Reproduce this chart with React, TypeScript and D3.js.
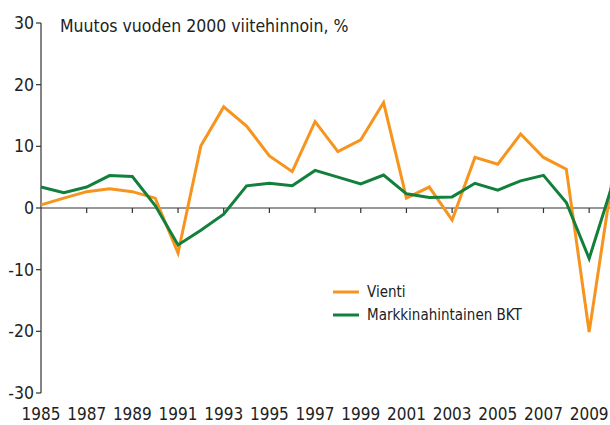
import React from 'react'
import * as d3 from 'd3'

const width = 610
const height = 425
const font = '"Liberation Sans Narrow", "DejaVu Sans Condensed", "Roboto Condensed", "Noto Sans", sans-serif'

const years = [1985, 1986, 1987, 1988, 1989, 1990, 1991, 1992, 1993, 1994, 1995, 1996, 1997,
	1998, 1999, 2000, 2001, 2002, 2003, 2004, 2005, 2006, 2007, 2008, 2009, 2010]
const vienti = [0.5, 1.6, 2.65, 3.1, 2.65, 1.6, -7.3, 10.1, 16.4, 13.3, 8.45, 5.9, 14.0,
	9.15, 11.05, 17.1, 1.6, 3.4, -1.95, 8.2, 7.1, 12.0, 8.2, 6.3, -20.1, 4.5]
const bkt = [3.4, 2.5, 3.4, 5.25, 5.1, 0.4, -6.0, -3.6, -1.0, 3.6, 4.0, 3.6, 6.1,
	5.0, 3.9, 5.35, 2.3, 1.7, 1.8, 4.0, 2.9, 4.4, 5.3, 0.9, -8.2, 3.6]
const yTicks = [30, 20, 10, 0, -10, -20, -30]
const xLabels = [1985, 1987, 1989, 1991, 1993, 1995, 1997, 1999, 2001, 2003, 2005, 2007, 2009]
const xTicks = [1987, 1989, 1991, 1993, 1995, 1997, 1999, 2001, 2003, 2005, 2007, 2009]

const series = [
	{ name: 'Vienti', values: vienti, color: '#f7941d' },
	{ name: 'Markkinahintainen BKT', values: bkt, color: '#12803c' },
]

export default function App() {
	const x = d3.scaleLinear().domain([1985, 2010]).range([41, 612])
	const y = d3.scaleLinear().domain([-30, 30]).range([393, 23])
	const line = d3.line<number>()
		.x((d, i) => x(years[i]))
		.y(d => y(d))

	return (
		<svg width={width} height={height}
			style={{ position: 'absolute', left: 0, top: 0, background: 'white' }}
			fontFamily={font}>
			{/* y axis */}
			<line x1={x(1985)} x2={x(1985)} y1={y(30)} y2={y(-30)} stroke="#333" strokeWidth={1.2} />
			{yTicks.map(t => (
				<g key={t}>
					<line x1={x(1985) - 5} x2={x(1985)} y1={y(t)} y2={y(t)} stroke="#333" strokeWidth={1.2} />
					<text x={x(1985) - 7} y={y(t)} dy="0.35em" textAnchor="end" fontSize={17.5} fill="#222">{t}</text>
				</g>
			))}
			{/* zero line */}
			<line x1={x(1985)} x2={width} y1={y(0)} y2={y(0)} stroke="#333" strokeWidth={1.2} />
			{xTicks.map(t => (
				<line key={t} x1={x(t)} x2={x(t)} y1={y(0)} y2={y(0) + 5} stroke="#333" strokeWidth={1.2} />
			))}
			{xLabels.map(t => (
				<text key={t} x={x(t)} y={420} textAnchor="middle" fontSize={17} fill="#222">{t}</text>
			))}

			<text x={60} y={32} fontSize={17.5} fill="#222">Muutos vuoden 2000 viitehinnoin, %</text>

			{series.map(s => (
				<path key={s.name} d={line(s.values) || ''} fill="none" stroke={s.color}
					strokeWidth={3} strokeLinejoin="miter" />
			))}

			{/* legend */}
			{series.map((s, i) => (
				<g key={s.name} transform={`translate(333, ${292 + i * 23})`}>
					<line x1={0} x2={26} y1={0} y2={0} stroke={s.color} strokeWidth={3} />
					<text x={34} y={0} dy="0.35em" fontSize={15} fill="#222">{s.name}</text>
				</g>
			))}
		</svg>
	)
}
